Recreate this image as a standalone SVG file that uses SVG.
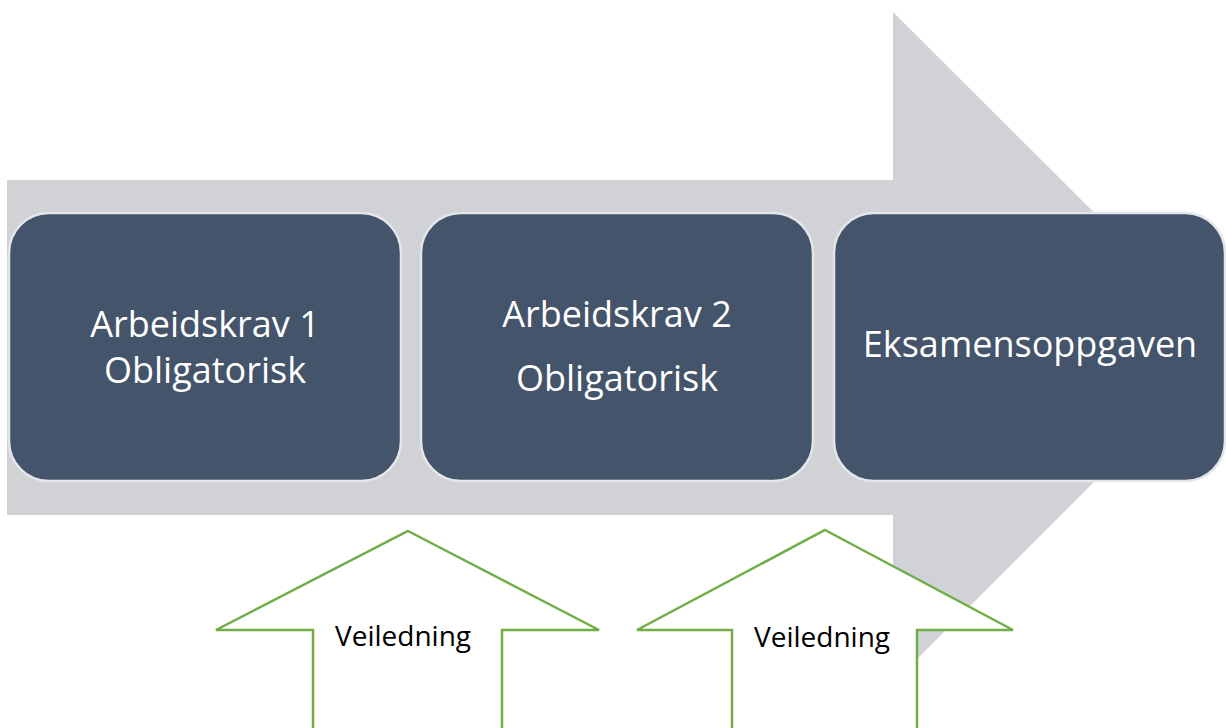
<svg xmlns="http://www.w3.org/2000/svg" width="1226" height="728" viewBox="0 0 1226 728">
  <style>
    .box { fill: #44546a; stroke: #e4e6ea; stroke-width: 2.5; }
    .boxtext { font-family: "Open Sans", "Liberation Sans", sans-serif; font-size: 36px; fill: #ffffff; text-anchor: middle; }
    .up { fill: #ffffff; stroke: #70ad47; stroke-width: 2.5; stroke-linejoin: miter; }
    .uptext { font-family: "Open Sans", "Liberation Sans", sans-serif; font-size: 28px; fill: #000000; text-anchor: middle; }
  </style>
  <rect width="1226" height="728" fill="#ffffff"/>
  <g id="connectors">
    <polygon id="process-arrow" points="7,180 893,180 893,12 1229,347 893,683 893,515 7,515" fill="#d0d2d6"/>
  </g>
  <g id="node-arbeidskrav1">
    <rect class="box" x="9" y="213" width="392" height="268" rx="40" ry="40"/>
    <text class="boxtext" x="205" y="337">Arbeidskrav 1</text>
    <text class="boxtext" x="205" y="383">Obligatorisk</text>
  </g>
  <g id="node-arbeidskrav2">
    <rect class="box" x="421" y="213" width="392" height="268" rx="40" ry="40"/>
    <text class="boxtext" x="617" y="327">Arbeidskrav 2</text>
    <text class="boxtext" x="617" y="391">Obligatorisk</text>
  </g>
  <g id="node-eksamen">
    <rect class="box" x="834" y="213" width="391" height="268" rx="40" ry="40"/>
    <text class="boxtext" x="1030" y="357">Eksamensoppgaven</text>
  </g>
  <g id="node-veiledning1">
    <polygon class="up" points="408,531 599,630 502,630 502,740 313,740 313,630 216,630"/>
    <text class="uptext" x="403" y="646">Veiledning</text>
  </g>
  <g id="node-veiledning2">
    <polygon class="up" points="825,530 1013,630 917,630 917,740 732,740 732,630 637,630"/>
    <text class="uptext" x="822" y="647">Veiledning</text>
  </g>
</svg>
